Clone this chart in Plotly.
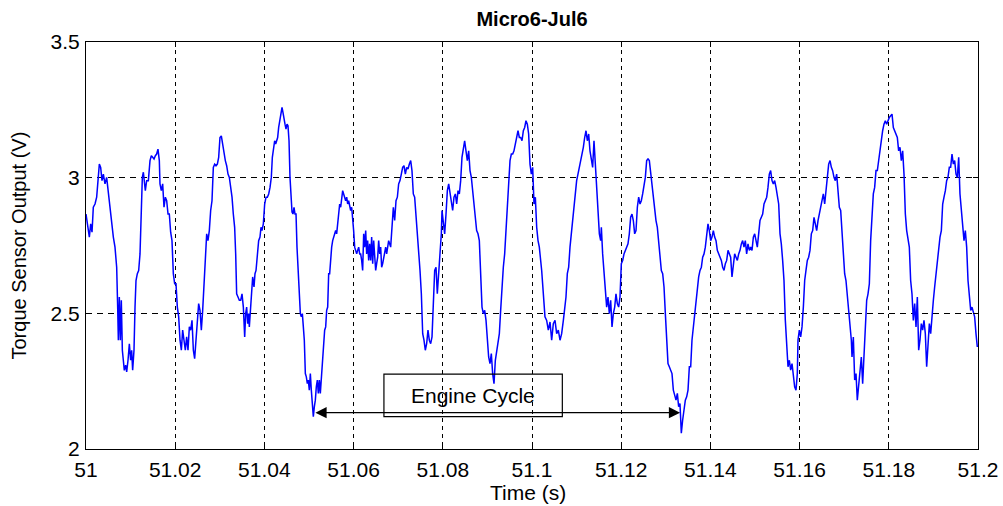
import numpy as np
import plotly.graph_objects as go

# time in milliseconds after t = 51 s, and torque sensor output (V)
t_ms = [
    0, 0.30, 0.75, 1.05, 1.35, 1.64, 2.02, 2.39, 2.77, 2.99, 3.29, 3.59, 3.89, 4.26, 4.63, 5.01, 5.38, 5.75, 6.13, 6.50,
    6.88, 7.10, 7.25, 7.47, 7.70, 7.92, 8.15, 8.37, 8.59, 8.89, 9.12, 9.42, 9.72, 10.01, 10.24, 10.46, 10.76, 10.99, 11.21, 11.51,
    11.81, 12.11, 12.33, 12.63, 12.86, 13.08, 13.30, 13.60, 13.98, 14.35, 14.65, 14.95, 15.25, 15.55, 15.84, 16.14, 16.44, 16.59, 16.89, 17.19,
    17.49, 17.79, 18.09, 18.39, 18.68, 18.98, 19.28, 19.58, 19.88, 20.18, 20.48, 20.78, 21.08, 21.38, 21.67, 21.97, 22.27, 22.57, 22.87, 23.17,
    23.47, 23.77, 24.07, 24.36, 24.66, 24.96, 25.26, 25.56, 25.86, 26.16, 26.46, 26.76, 27.06, 27.35, 27.65, 27.95, 28.25, 28.55, 28.85, 29.15,
    29.45, 29.75, 30.04, 30.34, 30.64, 30.94, 31.24, 31.54, 31.84, 32.14, 32.44, 32.74, 33.03, 33.33, 33.56, 33.78, 34.08, 34.38,
    34.68, 34.98, 35.28, 35.43, 35.58, 35.80, 36.02, 36.25, 36.47, 36.62, 36.92, 37.14, 37.37, 37.67, 37.89, 38.12, 38.42, 38.71, 39.01, 39.24,
    39.46, 39.76, 40.06, 40.36, 40.66, 40.96, 41.26, 41.55, 41.78, 42.00, 42.30, 42.53, 42.75, 42.97, 43.20, 43.50, 43.72, 43.95, 44.17, 44.39,
    44.62, 44.84, 45.07, 45.29, 45.52, 45.74, 45.96, 46.19, 46.41, 46.64, 46.86, 47.09, 47.31, 47.61, 47.83, 48.06, 48.28, 48.51, 48.73, 48.95,
    49.18, 49.40, 49.63, 49.85, 50.07, 50.30, 50.52, 50.75, 50.97, 51.20, 51.42, 51.64, 51.87, 52.09, 52.32, 52.54, 52.77, 52.99, 53.21, 53.51,
    53.74, 53.96, 54.19, 54.41, 54.63, 54.86, 55.08, 55.31, 55.53, 55.75, 55.98, 56.20, 56.43, 56.65, 56.88, 57.10, 57.32, 57.55, 57.77, 58.00,
    58.22, 58.45, 58.67, 58.89, 59.12, 59.34, 59.57, 59.79, 60.01, 60.24, 60.46, 60.69, 60.91, 61.14, 61.36, 61.58, 61.81, 62.03, 62.26, 62.48,
    62.71, 62.93, 63.15, 63.38, 63.60, 63.83, 64.05, 64.28, 64.50, 64.72, 64.95, 65.17, 65.40, 65.62, 65.85, 66.07, 66.29, 66.52, 66.74, 66.97,
    67.19, 67.41, 67.64, 67.86, 68.09,
    68.31, 68.91, 69.21, 69.51, 69.81, 70.10, 70.40, 70.70, 71.00, 71.30, 71.60, 71.90, 72.20, 72.50, 72.80, 73.09, 73.39, 73.69, 73.99, 74.29,
    74.59, 74.89, 75.19, 75.49, 75.78, 76.08, 76.38, 76.68, 76.98, 77.28, 77.58, 77.88, 78.18, 78.48, 78.77, 79.07, 79.37, 79.67, 79.82, 80.12,
    80.42, 80.72, 81.02, 81.32, 81.61, 81.91, 82.21, 82.51, 82.81, 83.11, 83.41, 83.71, 84.01, 84.30, 84.60, 84.90, 85.20, 85.50, 85.80, 86.10,
    86.40, 86.70, 86.99, 87.29, 87.59, 87.89, 88.19, 88.49, 88.79, 89.09, 89.39, 89.69, 89.99, 90.28, 90.58, 90.88, 91.18, 91.48, 91.78, 92.08,
    92.38, 92.68, 92.97, 93.27, 93.57, 93.87, 94.17, 94.47, 94.77, 95.07, 95.37, 95.67, 95.96, 96.26, 96.56, 96.86, 97.16, 97.46, 97.76, 98.06,
    98.36, 98.65, 98.95, 99.25, 99.55, 99.85, 100.15, 100.45, 100.75, 101.05, 101.35, 101.64,
    102.17, 102.54, 102.91, 103.29, 103.66, 104.04, 104.41, 104.78, 105.16, 105.53, 105.90, 106.28, 106.65, 107.03, 107.32, 107.62, 107.92, 108.22, 108.52, 108.82,
    109.12, 109.42, 109.72, 110.01, 110.31, 110.61, 110.91, 111.21, 111.51, 111.81, 112.11, 112.41, 112.71, 113.00, 113.30, 113.60, 113.90, 114.20, 114.50, 114.80,
    115.10, 115.40, 115.55, 115.84, 116.14, 116.44, 116.74, 117.04, 117.34, 117.64, 117.94, 118.24, 118.54, 118.83, 119.13, 119.43, 119.73, 120.03, 120.33, 120.63,
    120.93, 121.23, 121.52, 121.82, 122.12, 122.42, 122.72, 123.02, 123.32, 123.62, 123.92, 124.22, 124.51, 124.81, 125.11, 125.41, 125.71, 126.01, 126.31, 126.61,
    126.91, 127.20, 127.50, 127.80, 128.10, 128.40, 128.70, 129.00, 129.30, 129.60, 129.90, 130.19, 130.49, 130.79, 131.09, 131.39, 131.69, 131.99, 132.29, 132.59,
    132.88, 133.18, 133.48, 133.78, 134.08, 134.38, 134.68, 134.98, 135.28,
    135.58, 135.87, 136.17, 136.47, 136.77, 137.07, 137.37, 137.67, 137.97, 138.27, 138.57, 138.86, 139.16, 139.46, 139.76, 140.06, 140.36, 140.66, 140.96, 141.26,
    141.55, 141.85, 142.15, 142.45, 142.75, 143.05, 143.35, 143.65, 143.95, 144.24, 144.54, 144.84, 145.14, 145.44, 145.74, 146.04, 146.34, 146.64, 146.94, 147.23,
    147.53, 147.83, 148.13, 148.43, 148.73, 149.03, 149.33, 149.63, 149.93, 150.22, 150.52, 150.82, 151.12, 151.42, 151.72, 152.02, 152.32, 152.62, 152.91, 153.21,
    153.51, 153.81, 154.11, 154.41, 154.71, 155.01, 155.31, 155.61, 155.90, 156.20, 156.50, 156.80, 157.10, 157.40, 157.70, 158.00, 158.30, 158.59, 158.89, 159.19,
    159.49, 159.64, 159.94, 160.24, 160.54, 160.84, 161.14, 161.43, 161.73, 162.03, 162.33, 162.63, 162.93, 163.23, 163.53, 163.83, 164.13, 164.42, 164.72, 165.02,
    165.32, 165.62, 165.92, 166.22, 166.52, 166.82, 167.12, 167.41, 167.71, 168.01, 168.31, 168.61, 168.91,
    169.21, 169.51, 169.81, 170.10, 170.40, 170.70, 171.00, 171.30, 171.60, 171.75, 172.05, 172.35, 172.65, 172.94, 173.24, 173.54, 173.84, 174.14, 174.44, 174.74,
    175.04, 175.34, 175.64, 175.93, 176.23, 176.53, 176.83, 177.13, 177.43, 177.73, 178.03, 178.33, 178.62, 178.92, 179.22, 179.52, 179.82, 180.12, 180.42, 180.72,
    181.02, 181.32, 181.61, 181.91, 182.21, 182.51, 182.81, 183.11, 183.41, 183.71, 184.01, 184.30, 184.60, 184.90, 185.20, 185.50, 185.80, 186.10, 186.40, 186.70,
    186.99, 187.29, 187.59, 187.89, 188.19, 188.49, 188.79, 189.09, 189.39, 189.69, 189.99, 190.28, 190.58, 190.88, 191.18, 191.48, 191.78, 192.08, 192.38, 192.68,
    192.97, 193.27, 193.57, 193.87, 194.17, 194.47, 194.77, 195.07, 195.37, 195.67, 195.96, 196.26, 196.56, 196.86, 197.16, 197.46, 197.76, 198.06, 198.36, 198.65,
    198.95, 199.25, 199.55, 199.85,
]

volts = [
    2.866, 2.830, 2.781, 2.830, 2.799, 2.891, 2.903, 2.928, 2.989, 3.050, 3.038, 2.989, 3.013, 2.977, 3.001, 2.940, 2.891, 2.817, 2.781, 2.744,
    2.670, 2.523, 2.401, 2.560, 2.401, 2.548, 2.364, 2.327, 2.290, 2.309, 2.284, 2.327, 2.388, 2.327, 2.364, 2.290, 2.364, 2.523, 2.621, 2.646,
    2.658, 2.719, 2.866, 3.001, 3.020, 2.977, 2.952, 2.989, 2.989, 3.063, 3.081, 3.075, 3.069, 3.081, 3.087, 3.105, 3.063, 2.977, 2.952, 2.977,
    2.891, 2.928, 2.915, 2.866, 2.866, 2.799, 2.768, 2.646, 2.609, 2.609, 2.523, 2.487, 2.401, 2.364, 2.438, 2.401, 2.364, 2.413, 2.364, 2.450,
    2.438, 2.474, 2.364, 2.333, 2.401, 2.499, 2.536, 2.511, 2.438, 2.511, 2.597, 2.695, 2.793, 2.768, 2.805, 2.879, 2.915, 3.038, 3.050, 3.044,
    3.050, 3.075, 3.148, 3.154, 3.124, 3.081, 3.063, 3.044, 3.013, 3.001, 2.964, 2.928, 2.866, 2.817, 2.719, 2.572, 2.560, 2.548,
    2.548, 2.572, 2.523, 2.425, 2.413, 2.499, 2.523, 2.462, 2.499, 2.450, 2.523, 2.572, 2.634, 2.597, 2.646, 2.658, 2.707, 2.768, 2.781, 2.817,
    2.805, 2.830, 2.903, 2.928, 2.928, 2.940, 2.964, 3.001, 3.075, 3.099, 3.136, 3.124, 3.136, 3.148, 3.185, 3.210, 3.240, 3.259, 3.240, 3.210,
    3.197, 3.179, 3.197, 3.191, 3.136, 3.001, 2.952, 2.873, 2.866, 2.891, 2.866, 2.866, 2.744, 2.658, 2.572, 2.499, 2.487, 2.499, 2.450, 2.401,
    2.278, 2.266, 2.241, 2.254, 2.217, 2.278, 2.217, 2.156, 2.119, 2.156, 2.180, 2.229, 2.254, 2.205, 2.254, 2.205, 2.254, 2.327, 2.376, 2.438,
    2.450, 2.511, 2.523, 2.646, 2.646, 2.707, 2.744, 2.768, 2.781, 2.793, 2.805, 2.793, 2.842, 2.866, 2.903, 2.891, 2.915, 2.952, 2.940, 2.928,
    2.915, 2.928, 2.903, 2.915, 2.891, 2.879, 2.891, 2.854, 2.805, 2.744, 2.732, 2.719, 2.732, 2.744, 2.719, 2.719, 2.695, 2.658, 2.793, 2.744,
    2.805, 2.719, 2.768, 2.695, 2.756, 2.695, 2.781, 2.683, 2.768, 2.707, 2.658, 2.683, 2.707, 2.768, 2.719, 2.744, 2.670, 2.683, 2.707, 2.719,
    2.744, 2.719, 2.756, 2.768, 2.756,
    2.744, 2.891, 2.842, 2.915, 2.928, 2.977, 2.989, 3.013, 3.038, 3.044, 3.013, 3.038, 3.032, 3.050, 3.063, 3.026, 2.940, 2.928, 2.866, 2.781,
    2.719, 2.658, 2.572, 2.425, 2.401, 2.364, 2.388, 2.438, 2.401, 2.388, 2.413, 2.536, 2.658, 2.670, 2.572, 2.646, 2.719, 2.793, 2.879, 2.842,
    2.793, 2.866, 2.952, 2.977, 2.940, 2.903, 2.879, 2.928, 2.940, 2.903, 2.952, 2.940, 2.989, 3.075, 3.112, 3.136, 3.099, 3.063, 3.099, 3.026,
    3.001, 2.940, 2.915, 2.854, 2.805, 2.793, 2.768, 2.646, 2.523, 2.499, 2.511, 2.474, 2.401, 2.339, 2.315, 2.352, 2.278, 2.241, 2.327, 2.364,
    2.388, 2.425, 2.511, 2.597, 2.670, 2.719, 2.805, 2.891, 2.989, 3.063, 3.087, 3.087, 3.099, 3.124, 3.148, 3.173, 3.148, 3.148, 3.136, 3.173,
    3.185, 3.210, 3.197, 3.161, 3.050, 3.013, 3.038, 2.903, 2.928, 2.817, 2.768, 2.744,
    2.658, 2.572, 2.487, 2.474, 2.438, 2.468, 2.401, 2.462, 2.474, 2.425, 2.438, 2.401, 2.425, 2.474, 2.523, 2.560, 2.646, 2.670, 2.744, 2.793,
    2.842, 2.915, 2.952, 2.989, 3.013, 3.038, 3.050, 3.075, 3.112, 3.148, 3.173, 3.136, 3.161, 3.099, 3.063, 3.038, 3.136, 3.038, 2.940, 2.866,
    2.793, 2.768, 2.817, 2.719, 2.658, 2.597, 2.523, 2.560, 2.499, 2.548, 2.450, 2.499, 2.523, 2.572, 2.536, 2.523, 2.560, 2.683, 2.695, 2.719,
    2.732, 2.744, 2.756, 2.793, 2.854, 2.866, 2.842, 2.793, 2.805, 2.891, 2.928, 2.903, 2.915, 2.940, 2.964, 3.001, 3.063, 3.069, 3.063, 3.013,
    2.989, 2.928, 2.891, 2.842, 2.817, 2.768, 2.695, 2.658, 2.646, 2.597, 2.499, 2.401, 2.315, 2.303, 2.291, 2.278, 2.217, 2.192, 2.180, 2.205,
    2.156, 2.168, 2.058, 2.107, 2.156, 2.180, 2.192, 2.217, 2.303,
    2.303, 2.401, 2.450, 2.487, 2.523, 2.572, 2.634, 2.658, 2.670, 2.707, 2.719, 2.744, 2.793, 2.830, 2.805, 2.768, 2.781, 2.805, 2.781, 2.768,
    2.732, 2.719, 2.707, 2.695, 2.670, 2.658, 2.683, 2.695, 2.732, 2.719, 2.707, 2.634, 2.670, 2.719, 2.707, 2.695, 2.719, 2.732, 2.756, 2.768,
    2.744, 2.768, 2.719, 2.756, 2.732, 2.744, 2.732, 2.781, 2.793, 2.768, 2.744, 2.793, 2.842, 2.854, 2.866, 2.903, 2.915, 2.928, 2.964, 3.013,
    3.026, 2.989, 2.977, 2.989, 2.964, 2.928, 2.903, 2.793, 2.756, 2.695, 2.621, 2.474, 2.388, 2.303, 2.327, 2.291, 2.315, 2.278, 2.229, 2.217,
    2.278, 2.401, 2.438, 2.413, 2.450, 2.523, 2.621, 2.658, 2.695, 2.707, 2.732, 2.793, 2.805, 2.854, 2.830, 2.805, 2.842, 2.866, 2.891, 2.928,
    2.940, 2.903, 2.964, 3.001, 3.050, 3.063, 3.038, 3.026, 3.001, 2.989, 3.013, 2.964, 2.891,
    2.879, 2.805, 2.744, 2.646, 2.621, 2.572, 2.499, 2.450, 2.401, 2.339, 2.413, 2.254, 2.278, 2.180, 2.241, 2.291, 2.339, 2.241, 2.352, 2.425,
    2.548, 2.572, 2.609, 2.768, 2.842, 2.940, 2.964, 3.026, 3.026, 3.063, 3.112, 3.148, 3.173, 3.197, 3.210, 3.197, 3.210, 3.222, 3.228, 3.234,
    3.185, 3.173, 3.161, 3.148, 3.099, 3.112, 3.063, 3.099, 3.013, 2.866, 2.805, 2.768, 2.744, 2.621, 2.572, 2.474, 2.536, 2.450, 2.560, 2.364,
    2.401, 2.462, 2.438, 2.474, 2.425, 2.303, 2.401, 2.462, 2.425, 2.499, 2.548, 2.597, 2.646, 2.695, 2.744, 2.781, 2.805, 2.903, 2.928, 2.952,
    2.989, 3.001, 3.038, 3.038, 3.087, 3.050, 3.063, 3.013, 3.001, 3.075, 2.940, 2.891, 2.830, 2.768, 2.805, 2.744, 2.621, 2.548, 2.511, 2.523,
    2.499, 2.487, 2.425, 2.376,
]

x_tick_vals = [51.00, 51.02, 51.04, 51.06, 51.08, 51.10, 51.12, 51.14, 51.16, 51.18, 51.20]
x_tick_text = ["51", "51.02", "51.04", "51.06", "51.08", "51.1", "51.12", "51.14", "51.16", "51.18", "51.2"]
y_tick_vals = [2.0, 2.5, 3.0, 3.5]
y_tick_text = ["2", "2.5", "3", "3.5"]

# annotation: one engine cycle between two pressure minima
cycle_start = 51.0511
cycle_end = 51.1332
cycle_level = 2.134
label_box = (51.0668, 51.1068, 2.119, 2.276)

time_s = 51 + np.array(t_ms) / 1000.0

FONT = "Liberation Sans, Arial, sans-serif"

fig = go.Figure()
fig.add_trace(go.Scatter(
    x=time_s, y=volts, mode="lines",
    line=dict(color="#0000FF", width=1.5),
    showlegend=False, hoverinfo="skip",
))

axis_common = dict(
    showgrid=True, gridcolor="black", gridwidth=1,
    showline=True, linecolor="black", linewidth=1, mirror="ticks",
    ticks="inside", ticklen=5, tickcolor="black", tickwidth=1,
    zeroline=False, automargin=False,
    tickfont=dict(family=FONT, size=21, color="black"),
)

fig.update_layout(
    width=1003, height=506,
    margin=dict(l=86, r=25, t=42, b=57),
    paper_bgcolor="white", plot_bgcolor="white",
    title=dict(text="<b>Micro6-Jul6</b>", x=0.5, xref="paper", xanchor="center",
               y=0.962, yref="container", yanchor="middle",
               font=dict(family=FONT, size=20, color="black")),
    xaxis=dict(range=[51, 51.2], tickvals=x_tick_vals, ticktext=x_tick_text,
               griddash="4px,4px", ticklabelstandoff=2, **axis_common),
    yaxis=dict(range=[2, 3.5], tickvals=y_tick_vals, ticktext=y_tick_text,
               griddash="6px,5px", ticklabelstandoff=1, **axis_common),
)

# axis titles
fig.add_annotation(text="Time (s)", xref="paper", yref="paper", x=0.496, y=-0.106,
                   xanchor="center", yanchor="middle", showarrow=False,
                   font=dict(family=FONT, size=21, color="black"))
fig.add_annotation(text="Torque Sensor Output (V)", xref="paper", yref="paper", x=-0.0762, y=0.5,
                   xanchor="center", yanchor="middle", textangle=-90, showarrow=False,
                   font=dict(family=FONT, size=20, color="black"))

fig.add_shape(type="rect", x0=label_box[0], x1=label_box[1], y0=label_box[2], y1=label_box[3],
              xref="x", yref="y", line=dict(color="black", width=1.2), fillcolor="rgba(0,0,0,0)")

fig.add_annotation(
    x=(label_box[0] + label_box[1]) / 2, y=(label_box[2] + label_box[3]) / 2,
    xref="x", yref="y", text="Engine Cycle", showarrow=False,
    font=dict(family=FONT, size=21, color="black"),
)

fig.add_annotation(
    x=cycle_end, y=cycle_level, ax=cycle_start, ay=cycle_level,
    xref="x", yref="y", axref="x", ayref="y",
    text="", showarrow=True, arrowhead=2, startarrowhead=2, arrowside="end+start",
    arrowsize=1.6, startarrowsize=1.6, arrowwidth=1.4, arrowcolor="black",
    standoff=0, startstandoff=0,
)

fig.write_html("out.html")
